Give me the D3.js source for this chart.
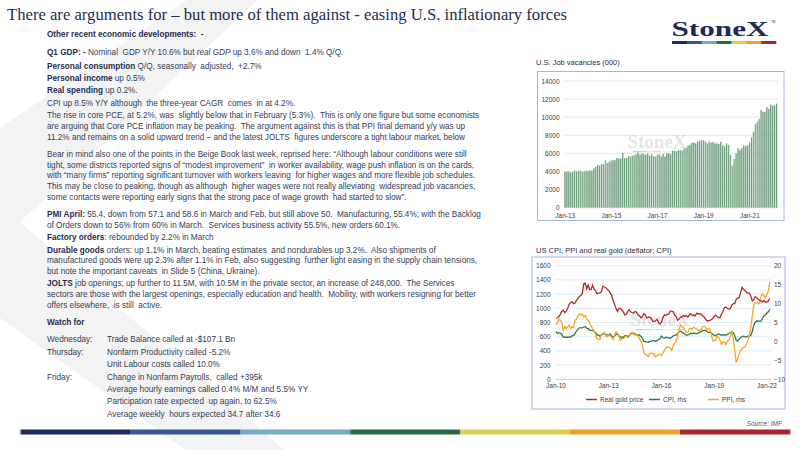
<!DOCTYPE html>
<html>
<head>
<meta charset="utf-8">
<script src="https://cdn.jsdelivr.net/npm/d3@7"></script>
<style>
  html, body { margin: 0; padding: 0; background: #fff; }
  svg { display: block; font-family: "Liberation Sans", Arial, sans-serif; }
  .txt { white-space: pre; }
</style>
</head>
<body>
<svg id="slide" width="800" height="450"></svg>
<script>
// ---- data: job vacancies (000), monthly Jan-13 .. Mar-22
const vacancies = [
  3950, 4000, 4000, 3900, 3950, 4100, 4000, 4050, 4100, 3950, 4050, 4100,
  4050, 4100, 4100, 4350, 4500, 4700, 4650, 4850, 4800, 5250, 4950, 5050,
  5200, 5300, 5250, 5500, 5450, 5400, 6050, 5450, 5500, 5700, 5650, 5750,
  5800, 5900, 6100, 5850, 6000, 5900, 5850, 6000, 5750, 5900, 5700, 5650,
  5850, 5900, 5700, 5950, 5650, 6000, 6050, 5900, 6300, 6250, 6200, 6350,
  6350, 6300, 6550, 6600, 6850, 6900, 7150, 7200, 7100, 7300, 7400, 7500,
  7450, 7300, 7100, 7300, 7200, 7250, 7100, 7100, 7050, 7300, 6900, 6800,
  7100, 6950, 5850, 4650, 5400, 6000, 6550, 6350, 6600, 6850, 6800, 6900,
  7200, 7800, 8400, 9250, 9500, 9800, 10800, 10600, 10600, 11100, 10900, 11400,
  11300, 11300, 11500
];
const vacTicks = ["Jan-13", "Jan-15", "Jan-17", "Jan-19", "Jan-21"];
const vacYTicks = [0, 2000, 4000, 6000, 8000, 10000, 12000, 14000];

// ---- data: real gold price (lhs), CPI y/y and PPI y/y (rhs), monthly Jan-10 .. Mar-22
const realGold = [
  860, 870, 885, 915, 960, 975, 940, 960, 1000, 1055, 1080, 1095,
  1065, 1075, 1110, 1140, 1165, 1180, 1210, 1345, 1355, 1275, 1330, 1265,
  1265, 1325, 1270, 1250, 1205, 1215, 1215, 1235, 1310, 1300, 1290, 1265,
  1250, 1210, 1185, 1110, 1055, 1000, 955, 1000, 1000, 975, 945, 905,
  920, 960, 980, 950, 940, 935, 955, 945, 905, 895, 865, 885,
  925, 905, 865, 875, 875, 860, 820, 815, 825, 845, 795, 780,
  800, 875, 905, 900, 910, 920, 960, 960, 950, 905, 885, 830,
  850, 875, 875, 900, 885, 895, 875, 905, 925, 900, 905, 890,
  930, 925, 920, 920, 895, 880, 850, 825, 825, 830, 840, 860,
  885, 905, 885, 870, 870, 920, 955, 1010, 1015, 1000, 990, 995,
  1045, 1065, 1065, 1125, 1145, 1150, 1220, 1295, 1265, 1250, 1225, 1215,
  1215, 1170, 1105, 1120, 1165, 1145, 1130, 1110, 1100, 1090, 1110, 1085,
  1090, 1105, 1140
];
const cpi = [
  2.6, 2.1, 2.3, 2.2, 2.0, 1.1, 1.2, 1.1, 1.1, 1.2, 1.1, 1.5,
  1.6, 2.1, 2.7, 3.2, 3.6, 3.6, 3.6, 3.8, 3.9, 3.5, 3.4, 3.0,
  2.9, 2.9, 2.7, 2.3, 1.7, 1.7, 1.4, 1.7, 2.0, 2.2, 1.8, 1.7,
  1.6, 2.0, 1.5, 1.1, 1.4, 1.8, 2.0, 1.5, 1.2, 1.0, 1.2, 1.5,
  1.6, 1.1, 1.5, 2.0, 2.1, 2.1, 2.0, 1.7, 1.7, 1.7, 1.3, 0.8,
  -0.1, 0.0, -0.1, -0.2, 0.0, 0.1, 0.2, 0.2, 0.0, 0.2, 0.5, 0.7,
  1.4, 1.0, 0.9, 1.1, 1.0, 1.0, 0.8, 1.1, 1.5, 1.6, 1.7, 2.1,
  2.5, 2.7, 2.4, 2.2, 1.9, 1.6, 1.7, 1.9, 2.2, 2.0, 2.2, 2.1,
  2.1, 2.2, 2.4, 2.5, 2.8, 2.9, 2.9, 2.7, 2.3, 2.5, 2.2, 1.9,
  1.6, 1.5, 1.9, 2.0, 1.8, 1.6, 1.8, 1.7, 1.7, 1.8, 2.1, 2.3,
  2.5, 2.3, 1.5, 0.3, 0.1, 0.6, 1.0, 1.3, 1.4, 1.2, 1.2, 1.4,
  1.4, 1.7, 2.6, 4.2, 5.0, 5.4, 5.4, 5.3, 5.4, 6.2, 6.8, 7.0,
  7.5, 7.9, 8.5
];
const ppi = [
  4.4, 4.9, 5.9, 5.4, 5.3, 2.7, 4.0, 3.3, 3.9, 4.3, 3.4, 3.8,
  3.7, 5.6, 5.8, 6.8, 7.3, 7.0, 7.2, 6.5, 6.9, 5.9, 5.6, 4.8,
  4.1, 3.3, 2.8, 1.9, 0.7, 0.7, 0.5, 1.9, 2.1, 2.3, 1.4, 1.3,
  1.5, 1.7, 1.1, 0.5, 1.7, 2.5, 2.1, 1.4, 0.3, 0.8, 0.7, 1.2,
  1.4, 1.4, 1.7, 2.1, 2.4, 1.9, 1.7, 1.8, 1.5, 0.7, 0.2, -0.9,
  -3.0, -3.5, -3.5, -4.0, -3.2, -3.1, -3.2, -3.4, -4.1, -3.8, -3.5, -3.3,
  -3.7, -3.0, -2.4, -1.8, -1.4, -1.5, -1.8, -2.3, -1.1, -0.4, 0.2, 1.2,
  3.2, 4.4, 3.8, 3.8, 3.0, 2.3, 2.3, 3.3, 3.5, 3.2, 3.8, 3.4,
  3.3, 2.8, 2.9, 3.0, 3.8, 4.0, 3.8, 3.1, 3.3, 3.3, 1.8, 0.2,
  0.3, 0.3, 1.6, 1.1, 0.3, -0.8, -0.1, -0.2, -0.9, 0.1, 0.3, 1.4,
  2.6, 0.7, -2.3, -5.4, -4.8, -3.3, -2.4, -2.0, -1.5, -1.5, -0.6, 0.3,
  1.7, 3.7, 6.9, 9.5, 10.3, 10.3, 10.0, 10.0, 12.1, 12.5, 12.0, 11.5,
  12.6, 13.4, 15.7
];
const goldTicksL = [0, 200, 400, 600, 800, 1000, 1200, 1400, 1600];
const goldTicksR = [-10, -5, 0, 5, 10, 15, 20];
const goldXTicks = ["Jan-10", "Jan-13", "Jan-16", "Jan-19", "Jan-22"];
const legendNames = ["Real gold price", "CPI, rhs", "PPI, rhs"];

const brandColors = ["#1f2a5c", "#35598a", "#7ba7c9", "#2c6a47", "#dccf52", "#eaa12e", "#a7252d"];

// ---- text of the left column
const bodyLines = [
  [34, [["Other recent economic developments:  -", "b"]]],
  [52, [["Q1 GDP: - ", "b"], ["Nominal  GDP Y/Y 10.6% but "], ["real GDP", "i"], [" up 3.6% and down  1.4% Q/Q."]]],
  [66, [["Personal consumption", "b"], [" Q/Q, seasonally  adjusted,  +2.7%"]]],
  [78, [["Personal income", "b"], [" up 0.5%"]]],
  [90, [["Real spending", "b"], [" up 0.2%."]]],
  [103, [["CPI up 8.5% Y/Y although  the three-year CAGR  comes  in at 4.2%."]]],
  [115, [["The rise in core PCE, at 5.2%, was  slightly below that in February (5.3%).  This is only one figure but some economists"]]],
  [126, [["are arguing that Core PCE inflation may be peaking.  The argument against this is that PPI final demand y/y was up"]]],
  [137, [["11.2% and remains on a solid upward trend \u2013 and the latest JOLTS  figures underscore a tight labour market, below"]]],
  [154, [["Bear in mind also one of the points in the Beige Book last week, reprised here: \u201CAlthough labour conditions were still"]]],
  [165, [["tight, some districts reported signs of \u201Cmodest improvement\u201D  in worker availability, wage push inflation is on the cards,"]]],
  [175, [["with \u201Cmany firms\u201D reporting significant turnover with workers leaving  for higher wages and more flexible job schedules."]]],
  [186, [["This may be close to peaking, though as although  higher wages were not really alleviating  widespread job vacancies,"]]],
  [197, [["some contacts were reporting early signs that the strong pace of wage growth  had started to slow\u201D."]]],
  [214, [["PMI April:", "b"], [" 55.4, down from 57.1 and 58.6 in March and Feb, but still above 50.  Manufacturing, 55.4%; with the Backlog"]]],
  [225, [["of Orders down to 56% from 60% in March.  Services business activity 55.5%, new orders 60.1%."]]],
  [237, [["Factory orders", "b"], [": rebounded by 2.2% in March"]]],
  [250, [["Durable goods", "b"], [" orders: up 1.1% in March, beating estimates  and nondurables up 3.2%.  Also shipments of"]]],
  [260, [["manufactured goods were up 2.3% after 1.1% in Feb, also suggesting  further light easing in the supply chain tensions,"]]],
  [271, [["but note the important caveats  in Slide 5 (China, Ukraine)."]]],
  [283, [["JOLTS", "b"], [" job openings; up further to 11.5M, with 10.5M in the private sector, an increase of 248,000.  The Services"]]],
  [294, [["sectors are those with the largest openings, especially education and health.  Mobility, with workers resigning for better"]]],
  [305, [["offers elsewhere,  is still  active."]]],
  [322, [["Watch for", "b"]]]
];
const watchDays = [[339, "Wednesday:"], [352, "Thursday:"], [377, "Friday:"]];
const watchItems = [
  [339, "Trade Balance called at -$107.1 Bn"],
  [352, "Nonfarm Productivity called -5.2%"],
  [364, "Unit Labour costs called 10.0%"],
  [377, "Change in Nonfarm Payrolls,  called +395k"],
  [389, "Average hourly earnings called 0.4% M/M and 5.5% YY"],
  [401, "Participation rate expected  up again, to 62.5%"],
  [414, "Average weekly  hours expected 34.7 after 34.6"]
];

const svg = d3.select("#slide");
const defs = svg.append("defs");

// background chevron
svg.append("polygon")
  .attr("points", "187,0 258,0 20,222 284,450 186,450 0,318 0,128")
  .attr("fill", "#f3f3f3");

// title
svg.append("text")
  .attr("x", 7).attr("y", 20)
  .attr("font-family", "'Liberation Serif', 'Times New Roman', serif")
  .attr("font-size", 17.5)
  .attr("fill", "#1c2e4f")
  .attr("textLength", 560).attr("lengthAdjust", "spacingAndGlyphs")
  .text("There are arguments for \u2013 but more of them against - easing U.S. inflationary forces");

// logo
svg.append("text")
  .attr("x", 720).attr("y", 36)
  .attr("text-anchor", "middle")
  .attr("font-family", "'Liberation Serif', 'Times New Roman', serif")
  .attr("font-size", 22).attr("font-weight", "bold")
  .attr("fill", "#1f2a5c")
  .attr("textLength", 97).attr("lengthAdjust", "spacingAndGlyphs")
  .text("StoneX");
svg.append("text").attr("x", 771).attr("y", 23).attr("font-size", 3).attr("fill", "#1f2a5c").text("TM");
const logoX = d3.scaleBand().domain(d3.range(7)).range([672, 776]);
svg.append("g").selectAll("rect").data(brandColors).join("rect")
  .attr("x", (d, i) => logoX(i)).attr("y", 41)
  .attr("width", logoX.bandwidth() + 0.3).attr("height", 3)
  .attr("fill", d => d);

// left column text
const txt = svg.append("g").attr("font-size", 8.2).attr("fill", "#333d57");
bodyLines.forEach(([y, segs]) => {
  const t = txt.append("text").attr("class", "txt").attr("x", 47).attr("y", y + 3);
  segs.forEach(([s, st]) => {
    const sp = t.append("tspan").text(s);
    if (st === "b") sp.attr("font-weight", "bold").attr("fill", "#1f2b4d");
    if (st === "i") sp.attr("font-style", "italic");
  });
});
watchDays.forEach(([y, s]) => txt.append("text").attr("class", "txt").attr("x", 47).attr("y", y + 3).text(s));
watchItems.forEach(([y, s]) => txt.append("text").attr("class", "txt").attr("x", 107).attr("y", y + 3).text(s));

// bottom brand stripe
const stripeX = d3.scaleBand().domain(d3.range(7)).range([20.5, 790]);
svg.append("g").selectAll("rect").data(brandColors).join("rect")
  .attr("x", (d, i) => stripeX(i)).attr("y", 429.5)
  .attr("width", stripeX.bandwidth() + 0.3).attr("height", 5)
  .attr("fill", d => d);
svg.append("text")
  .attr("x", 782).attr("y", 426)
  .attr("text-anchor", "end").attr("font-size", 6.5).attr("font-style", "italic")
  .attr("fill", "#555").text("Source:  IMF");

function watermark(g, x, y) {
  g.append("text").attr("x", x).attr("y", y)
    .attr("text-anchor", "middle")
    .attr("font-family", "'Liberation Serif', serif").attr("font-size", 19).attr("font-weight", "bold")
    .attr("fill", "#cccccc").attr("opacity", 0.5).text("StoneX");
  const wx = d3.scaleBand().domain(d3.range(7)).range([x - 24, x + 24]);
  g.append("g").selectAll("rect").data(brandColors).join("rect")
    .attr("x", (d, i) => wx(i)).attr("y", y + 3).attr("width", wx.bandwidth()).attr("height", 1.2)
    .attr("fill", d => d).attr("opacity", 0.25);
}

const fixText = g => g.call(s => s.select(".domain").remove())
  .call(s => s.selectAll("text").attr("fill", "#404040").attr("font-size", 6.5).attr("font-family", "'Liberation Sans', Arial, sans-serif"));

// ===== chart 1: job vacancies
const c1 = svg.append("g").attr("font-size", 6.5);
c1.append("text").attr("x", 536).attr("y", 64.5).attr("font-size", 7.5).attr("fill", "#1f2b4d")
  .text("U.S. Job vacancies (000)");
c1.append("rect").attr("x", 537.5).attr("y", 71.5).attr("width", 246.5).attr("height", 149)
  .attr("fill", "#fff").attr("stroke", "#a5b8d8").attr("stroke-width", 1);

const vacMonths = d3.timeMonth.range(new Date(2013, 0, 1), new Date(2013, vacancies.length, 1));
const xb = d3.scaleBand().domain(vacMonths).range([564.5, 777.5]).paddingInner(0.22);
const yb = d3.scaleLinear().domain([0, 14000]).range([207.7, 81]);

c1.append("g").selectAll("line").data(vacYTicks.filter(d => d > 0)).join("line")
  .attr("x1", 564).attr("x2", 778)
  .attr("y1", d => yb(d)).attr("y2", d => yb(d))
  .attr("stroke", "#d8e7f6").attr("stroke-width", 0.8);

watermark(c1, 657, 148);

const grad = defs.append("linearGradient").attr("id", "barGrad").attr("x1", 0).attr("x2", 1).attr("y1", 0).attr("y2", 0);
grad.append("stop").attr("offset", "0%").attr("stop-color", "#2b6b44");
grad.append("stop").attr("offset", "45%").attr("stop-color", "#86b292");
grad.append("stop").attr("offset", "100%").attr("stop-color", "#b8d2bd");

c1.append("g").selectAll("rect").data(vacancies).join("rect")
  .attr("x", (d, i) => xb(vacMonths[i]))
  .attr("y", d => yb(d))
  .attr("width", xb.bandwidth())
  .attr("height", d => yb(0) - yb(d))
  .attr("fill", "url(#barGrad)");

c1.append("line").attr("x1", 564).attr("x2", 778).attr("y1", yb(0)).attr("y2", yb(0))
  .attr("stroke", "#bfbfbf").attr("stroke-width", 0.8);

c1.append("g").attr("transform", "translate(559.5,0)")
  .call(d3.axisLeft(yb).tickValues(vacYTicks).tickFormat(d3.format("d")).tickSize(0).tickPadding(0))
  .call(fixText);

const xTickMonths1 = vacTicks.map(s => vacMonths.find(m => d3.timeFormat("%b-%y")(m) === s));
c1.append("g").selectAll("text").data(vacTicks).join("text")
  .attr("x", (d, i) => xb(xTickMonths1[i]) + xb.bandwidth() / 2)
  .attr("y", 217.5).attr("text-anchor", "middle").attr("fill", "#404040")
  .text(d => d);

// ===== chart 2: CPI, PPI and real gold
const c2 = svg.append("g").attr("font-size", 6.5);
c2.append("text").attr("x", 536).attr("y", 252.5).attr("font-size", 7.5).attr("fill", "#1f2b4d")
  .text("US CPI, PPI and real gold (deflator; CPI)");
c2.append("rect").attr("x", 532).attr("y", 257).attr("width", 253).attr("height", 152)
  .attr("fill", "#fff").attr("stroke", "#a5b8d8").attr("stroke-width", 1);

const goldMonths = d3.timeMonth.range(new Date(2010, 0, 1), new Date(2010, realGold.length, 1));
const xl = d3.scaleTime().domain([new Date(2010, 0, 1), new Date(2022, 0, 1)]).range([556, 767]);
const yl = d3.scaleLinear().domain([0, 1600]).range([379.3, 265.7]);
const yr = d3.scaleLinear().domain([-10, 20]).range([379.3, 265.7]);

c2.append("g").selectAll("line").data(goldTicksL.filter(d => d > 0)).join("line")
  .attr("x1", 556).attr("x2", 771)
  .attr("y1", d => yl(d)).attr("y2", d => yl(d))
  .attr("stroke", "#d8e7f6").attr("stroke-width", 0.8);

watermark(c2, 660, 326);

c2.append("line").attr("x1", 556).attr("x2", 771).attr("y1", yl(0)).attr("y2", yl(0))
  .attr("stroke", "#bfbfbf").attr("stroke-width", 0.8);

const lineL = d3.line().x((d, i) => xl(goldMonths[i])).y(d => yl(d));
const lineR = d3.line().x((d, i) => xl(goldMonths[i])).y(d => yr(d));
const seriesColors = ["#b3282d", "#2f7b47", "#f6a623"];
c2.append("path").datum(cpi).attr("d", lineR).attr("fill", "none").attr("stroke", seriesColors[1]).attr("stroke-width", 1.3);
c2.append("path").datum(ppi).attr("d", lineR).attr("fill", "none").attr("stroke", seriesColors[2]).attr("stroke-width", 1.3);
c2.append("path").datum(realGold).attr("d", lineL).attr("fill", "none").attr("stroke", seriesColors[0]).attr("stroke-width", 1.3);

c2.append("g").attr("transform", "translate(550.5,0)")
  .call(d3.axisLeft(yl).tickValues(goldTicksL).tickFormat(d3.format("d")).tickSize(0).tickPadding(0)).call(fixText);
c2.append("g").attr("transform", "translate(774,0)")
  .call(d3.axisRight(yr).tickValues(goldTicksR).tickFormat(d3.format("d")).tickSize(0).tickPadding(0)).call(fixText);

const parseTick = d3.timeParse("%b-%y");
c2.append("g").selectAll("text").data(goldXTicks).join("text")
  .attr("x", d => xl(parseTick(d)))
  .attr("y", 388).attr("text-anchor", "middle").attr("fill", "#404040")
  .text(d => d);

// legend
const legX = [586, 649, 708];
const leg = c2.append("g").selectAll("g").data(legendNames).join("g")
  .attr("transform", (d, i) => `translate(${legX[i]},399.5)`);
leg.append("line").attr("x1", 0).attr("x2", 11).attr("stroke", (d, i) => seriesColors[i]).attr("stroke-width", 1.5);
leg.append("text").attr("x", 14).attr("y", 2.3).attr("fill", "#404040").text(d => d);
</script>
</body>
</html>
